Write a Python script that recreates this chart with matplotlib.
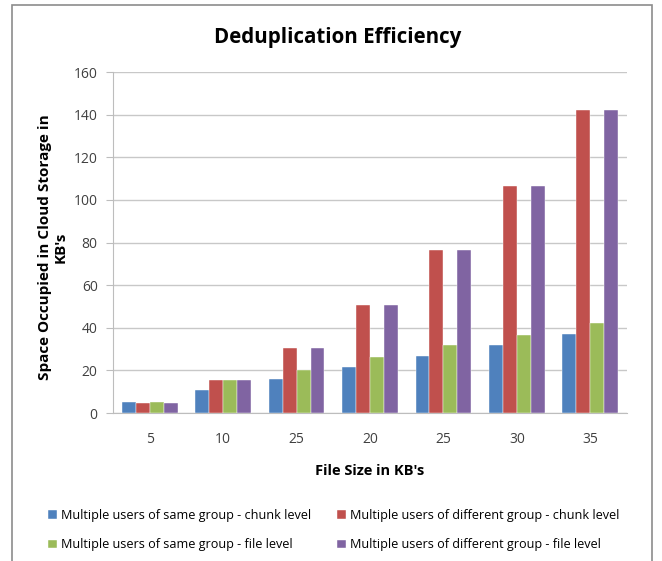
import matplotlib
matplotlib.use("Agg")
import matplotlib.pyplot as plt
import numpy as np

plt.rcParams["font.family"] = ["Open Sans", "DejaVu Sans"]

categories = ["5", "10", "25", "20", "25", "30", "35"]
same_chunk = [5.0, 10.8, 15.8, 21.5, 26.8, 32.0, 37.3]
diff_chunk = [4.7, 15.3, 30.6, 50.8, 76.4, 106.7, 142.2]
same_file = [5.0, 15.7, 20.4, 26.4, 31.9, 36.7, 42.1]
diff_file = [4.7, 15.3, 30.6, 50.8, 76.4, 106.7, 142.2]

series = [
    ("Multiple users of same group - chunk level", same_chunk, "#4F81BD"),
    ("Multiple users of different group - chunk level", diff_chunk, "#C0504D"),
    ("Multiple users of same group - file level", same_file, "#9BBB59"),
    ("Multiple users of different group - file level", diff_file, "#8064A2"),
]

fig = plt.figure(figsize=(6.62, 5.61), dpi=100)
ax = fig.add_axes([0.1707, 0.2638, 0.7764, 0.6078])

# outer chart border
fig.patches.append(plt.Rectangle((12 / 662, -0.01), 640 / 662, 1 - 5 / 561 + 0.01,
                                 transform=fig.transFigure, fill=False,
                                 edgecolor="#8c8c8c", lw=1.2))

x = np.arange(len(categories))
w = 0.19
handles = []
for i, (label, vals, col) in enumerate(series):
    h = ax.bar(x + (i - 1.5) * w, vals, width=w, color=col, label=label,
               edgecolor="white", linewidth=0.3, zorder=3)
    handles.append(h)

ax.set_xlim(-0.5, len(categories) - 0.5)
ax.set_ylim(0, 160)
ax.set_yticks(np.arange(0, 161, 20))
ax.set_xticks(x)
ax.set_xticklabels(categories)
ax.grid(axis="y", color="#c8c8c8", lw=1.0, zorder=0)
for s in ("top", "right"):
    ax.spines[s].set_visible(False)
ax.spines["left"].set_color("#bdbdbd")
ax.spines["bottom"].set_color("#bdbdbd")
ax.tick_params(axis="y", length=5, color="#bdbdbd", labelsize=10, labelcolor="#404040", pad=6)
ax.tick_params(axis="x", length=0, labelsize=10, labelcolor="#404040", pad=14)

fig.text(0.51, 1 - 37 / 561, "Deduplication Efficiency", ha="center", va="center",
         fontsize=14.8, fontweight="bold")
ax.set_xlabel("File Size in KB's", fontsize=10.5, fontweight="bold", labelpad=12)
fig.text(53 / 662, 0.5 + 0.06, "Space Occupied in Cloud Storage in\nKB's", rotation=90,
         ha="center", va="center", fontsize=11, fontweight="bold")

# legend fills column-wise, so order handles to read row-wise like the original
order = [0, 2, 1, 3]
fig.legend(handles=[handles[k] for k in order], loc="upper left",
           bbox_to_anchor=(48 / 662, 1 - 509 / 561), ncol=2,
           frameon=False, fontsize=9.1, handlelength=0.7, handleheight=0.7,
           handletextpad=0.35, columnspacing=2.0, labelspacing=1.3,
           borderaxespad=0, borderpad=0)

fig.savefig("out.png", dpi=100)
